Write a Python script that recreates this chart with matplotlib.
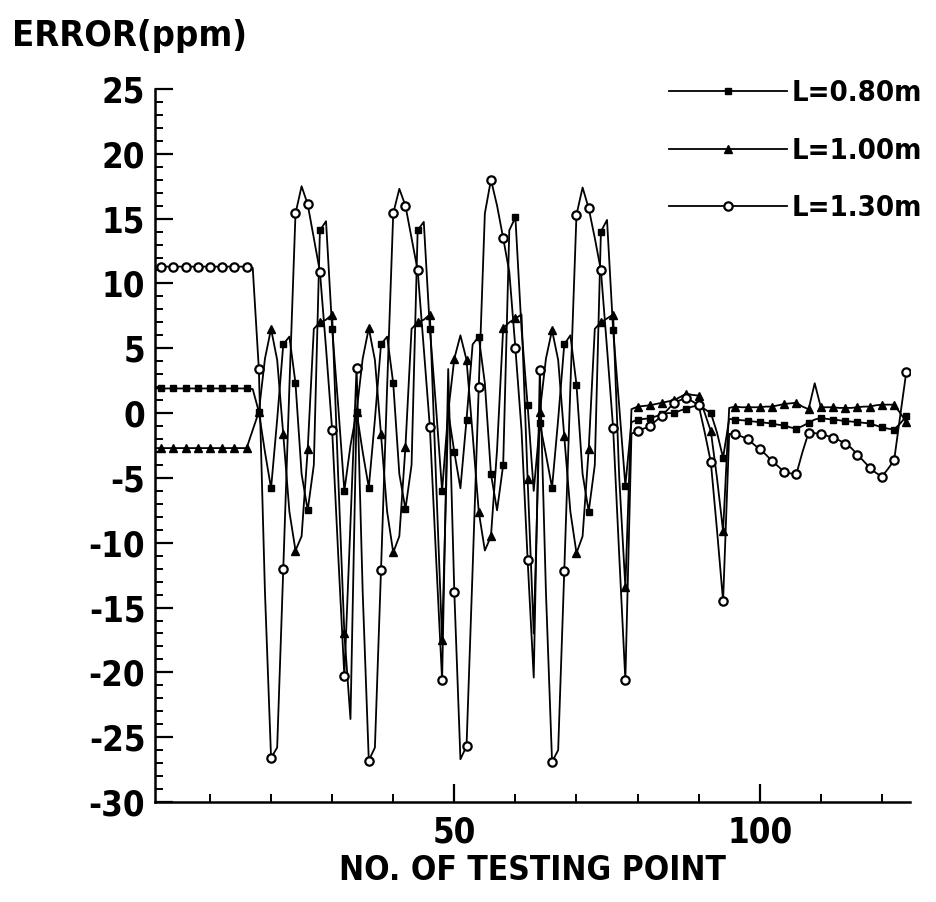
import numpy as np
import matplotlib
matplotlib.use("Agg")
import matplotlib.pyplot as plt
from matplotlib import font_manager as fm
from matplotlib.ticker import MultipleLocator, FixedLocator

# look for a narrow face, the scan uses a condensed sans
narrow = None
for f in fm.fontManager.ttflist:
    if 'Narrow' in f.name or 'Condensed' in f.name or f.stretch in ('condensed', 'semi-condensed'):
        if narrow is None or (f.weight in ('bold', 700) and narrow.weight not in ('bold', 700)):
            narrow = f
if narrow is not None:
    plt.rcParams['font.family'] = [narrow.name, 'DejaVu Sans']
    plt.rcParams['font.stretch'] = narrow.stretch
else:
    plt.rcParams['font.family'] = ['Liberation Sans', 'DejaVu Sans']
plt.rcParams['font.weight'] = 'bold'
plt.rcParams['axes.labelweight'] = 'bold'
plt.rcParams['axes.unicode_minus'] = False

# testing point numbers
pts = np.arange(1, 125)

# L=0.80m
err_080 = [1.9, 1.9, 1.9, 1.9, 1.9, 1.9, 1.9, 1.9, 1.9, 1.9, 1.9, 1.9, 1.9, 1.9, 1.9, 1.9,
           1.85,
           0.1, -3.0, -5.8, -0.5, 5.3, 5.9, 2.3, -4.7, -7.5, -4.0, 14.1, 14.8, 6.5, 0.5, -6.0,
           -2.5,
           0.1, -3.0, -5.75, -0.5, 5.3, 5.9, 2.3, -4.7, -7.4, -4.0, 14.1, 14.75, 6.5, 0.5, -6.0,
           0.1, -3.0, -5.8, -0.5, 5.3, 5.9, 2.3, -4.7, -7.5, -4.0, 14.1, 15.1, 6.5, 0.6, -6.0,
           -0.8, -3.2, -5.75, -0.5, 5.3, 6.0, 2.2, -4.7, -7.6, -4.0, 14.0, 14.9, 6.4, 0.5, -5.6,
           -0.7, -0.5, -0.45, -0.4, -0.25, -0.1, 0.0, 0.0, 0.2, 0.35, 0.5, 0.6, 0.3, 0.0, -1.5, -3.45,
           -0.45, -0.5, -0.55, -0.58, -0.65, -0.7, -0.75, -0.8, -0.9, -0.95,
           -1.1, -1.2, -1.0, -0.75, -0.5, -0.37, -0.45, -0.5, -0.55, -0.63,
           -0.65, -0.7, -0.75, -0.8, -0.95, -1.1, -1.2, -1.27, -0.8, -0.25]

# L=1.00m
err_100 = [-2.7, -2.7, -2.7, -2.7, -2.7, -2.7, -2.7, -2.7, -2.7, -2.7, -2.7, -2.7, -2.7, -2.7, -2.7, -2.7,
           -1.3,
           0.1, 4.2, 6.5, 4.1, -1.65, -7.6, -10.6, -9.5, -2.8, 6.5, 7.0, 7.2, 7.6, -5.0, -17.0,
           -23.6,
           0.1, 4.2, 6.55, 4.1, -1.65, -7.6, -10.75, -9.5, -2.6, 6.5, 7.0, 7.2, 7.6, -5.0, -17.5,
           0.1, 4.2, 6.0, 4.1, -1.65, -7.6, -10.6, -9.5, -2.8, 6.55, 7.0, 7.3, 7.6, -5.1, -17.0,
           0.1, 4.2, 6.4, 4.1, -1.8, -7.6, -10.8, -9.5, -2.8, 6.5, 7.0, 7.3, 7.6, -5.0, -13.4,
           0.3, 0.5, 0.55, 0.6, 0.7, 0.8, 0.9, 1.0, 1.25, 1.5, 1.4, 1.35, 0.0, -1.4, -5.0, -9.1,
           0.4, 0.5, 0.45, 0.45, 0.45, 0.45, 0.5, 0.5, 0.6, 0.7,
           0.75, 0.8, 0.5, 0.3, 2.3, 0.45, 0.45, 0.45, 0.4, 0.4,
           0.4, 0.45, 0.5, 0.5, 0.6, 0.65, 0.65, 0.65, 0.0, -0.7]

# L=1.30m
err_130 = [11.3, 11.3, 11.3, 11.3, 11.3, 11.3, 11.3, 11.3, 11.3, 11.3, 11.3, 11.3, 11.3, 11.3, 11.3, 11.3,
           11.2,
           3.4, -13.8, -26.6, -25.8, -12.0, 2.0, 15.4, 17.5, 16.1, 13.5, 10.9, 5.0, -1.3, -11.0, -20.3,
           -8.5,
           3.5, -13.8, -26.8, -25.8, -12.1, 2.0, 15.4, 17.3, 16.0, 13.5, 11.0, 5.0, -1.1, -11.0, -20.6,
           3.4, -13.8, -26.7, -25.7, -12.0, 2.0, 15.4, 18.0, 16.0, 13.5, 10.9, 5.0, -1.3, -11.3, -20.4,
           3.35, -13.8, -26.9, -26.0, -12.2, 2.0, 15.3, 17.4, 15.8, 13.5, 11.0, 5.0, -1.15, -11.0, -20.6,
           -1.6, -1.35, -1.2, -1.0, -0.6, -0.2, 0.3, 0.8, 1.0, 1.2, 0.9, 0.6, -1.5, -3.8, -9.0, -14.5,
           -1.6, -1.65, -1.8, -2.0, -2.4, -2.8, -3.2, -3.7, -4.1, -4.55,
           -4.65, -4.7, -3.0, -1.5, -1.55, -1.6, -1.75, -1.9, -2.1, -2.35,
           -2.7, -3.2, -3.7, -4.2, -4.6, -4.9, -4.3, -3.65, -0.2, 3.2]

labels = ['L=0.80m', 'L=1.00m', 'L=1.30m']

fig = plt.figure(figsize=(9.36, 9.02), dpi=100, facecolor='white')
ax = fig.add_axes([155/936, 1-802/902, (910-155)/936, (802-89)/902])

lw = 1.3
ax.plot(pts, err_080, 'k-', lw=lw, marker='s', ms=4.8, mfc='black', mec='black',
        markevery=(1, 2), label=labels[0])
ax.plot(pts, err_100, 'k-', lw=lw, marker='^', ms=5.2, mfc='black', mec='black',
        markevery=(1, 2), label=labels[1])
ax.plot(pts, err_130, 'k-', lw=lw, marker='o', ms=6, mfc='white', mec='black', mew=1.6,
        markevery=(1, 2), label=labels[2])

ax.set_xlim(1, 124.6)
ax.set_ylim(-30, 25)

ax.spines['top'].set_visible(False)
ax.spines['right'].set_visible(False)
ax.spines['left'].set_linewidth(1.8)
ax.spines['bottom'].set_linewidth(1.8)

ax.yaxis.set_major_locator(MultipleLocator(5))
ax.yaxis.set_minor_locator(MultipleLocator(1))
ax.xaxis.set_major_locator(FixedLocator([50, 100]))
ax.xaxis.set_minor_locator(FixedLocator([10, 20, 30, 40, 60, 70, 80, 90, 110, 120]))

ax.tick_params(which='major', direction='in', length=13, width=1.6, labelsize=25, pad=7)
ax.tick_params(which='minor', direction='in', length=6, width=1.4)
ax.tick_params(axis='x', which='major', pad=10)

ax.set_xlabel('NO. OF TESTING POINT', fontsize=24, labelpad=3)
fig.text(12/936, 1-46/902, 'ERROR(ppm)', fontsize=26, ha='left', va='baseline')

leg = fig.legend(loc='upper left', bbox_to_anchor=(669/936, 1-79/902), frameon=False,
                 fontsize=21, handlelength=4.05, handletextpad=0.15, labelspacing=1.02,
                 numpoints=1, borderpad=0, borderaxespad=0)

fig.savefig('out.png', dpi=100, facecolor='white')
